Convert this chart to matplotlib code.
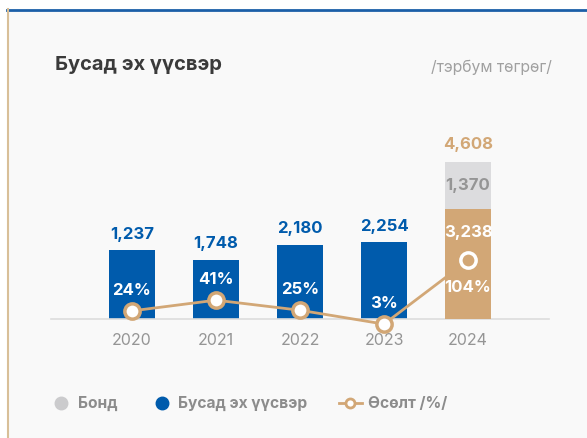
import matplotlib.pyplot as plt
from matplotlib.lines import Line2D
from matplotlib.patches import Rectangle

plt.rcParams['font.family'] = ['Inter', 'DejaVu Sans']

# data
years = ["2020", "2021", "2022", "2023", "2024"]
other_src = [2030, 1748, 2180, 2254, 3238]   # bar heights as drawn
other_lbl = ["1,237", "1,748", "2,180", "2,254", "3,238"]
bond = [0, 0, 0, 0, 1370]
bond_lbl = "1,370"
total_lbl = "4,608"
growth = [24, 41, 25, 3, 104]
growth_lbl = ["24%", "41%", "25%", "3%", "104%"]

BLUE = "#005bac"
TAN = "#d2a776"
GREY = "#dcdcde"
BG = "#f9f9f9"
TXT_GREY = "#959595"

W, H = 587, 438
fig = plt.figure(figsize=(W / 100, H / 100), dpi=100)
fig.patch.set_facecolor("white")

# card background and borders
fig.add_artist(Rectangle((8 / W, 0), 1, 1 - 10 / H, transform=fig.transFigure,
                         facecolor=BG, edgecolor="none", zorder=-5))
fig.add_artist(Line2D([7 / W, 1], [1 - 9.5 / H] * 2, color="#1b5fa8", lw=2))
fig.add_artist(Line2D([7.5 / W] * 2, [0, 1 - 9 / H], color="#d8bf98", lw=1.5))

rect = [51 / W, 1 - 319 / H, 498 / W, 189 / H]
x = list(range(len(years)))
w = 0.548
YMAX = 5560
G0, G1 = 11.1, 311.1

# bars 2020-2023
ax = fig.add_axes(rect)
ax.set_facecolor("none")
ax.bar(x[:4], other_src[:4], width=w, color=BLUE, zorder=2)
for i in range(4):
    ax.annotate(other_lbl[i], (x[i], other_src[i]), xytext=(0, 11.5), textcoords="offset points",
                ha="center", va="center", color=BLUE, fontsize=12, fontweight="bold")
ax.set_xlim(-0.964, 4.964)
ax.set_ylim(0, YMAX)
for s in ["top", "right", "left"]:
    ax.spines[s].set_visible(False)
ax.spines["bottom"].set_color("#dddddd")
ax.spines["bottom"].set_linewidth(1.2)
ax.set_yticks([])
ax.set_xticks(x)
ax.set_xticklabels(years, color=TXT_GREY, fontsize=11.5)
ax.tick_params(axis="x", length=0, pad=10)

# growth line
ax2 = fig.add_axes(rect, sharex=ax)
ax2.axis("off")
ax2.plot(x, growth, color=TAN, lw=2, zorder=3, clip_on=False)
ax2.plot(x[:4], growth[:4], "o", ms=11, mfc="white", mec=TAN, mew=2.5, zorder=5, clip_on=False)
for i in range(4):
    ax2.annotate(growth_lbl[i], (x[i], growth[i]), xytext=(0, 15), textcoords="offset points",
                 ha="center", va="center", color="white", fontsize=12, fontweight="bold",
                 annotation_clip=False)
ax2.set_ylim(G0, G1)

# 2024 stack sits over the line
ax3 = fig.add_axes(rect, sharex=ax, sharey=ax)
ax3.axis("off")
ax3.bar(x[4], other_src[4], width=w, color=TAN)
ax3.bar(x[4], bond[4], width=w, bottom=other_src[4], color=GREY)
ax3.annotate(bond_lbl, (x[4], other_src[4] + bond[4] / 2), ha="center", va="center",
             color=TXT_GREY, fontsize=12, fontweight="bold")
ax3.annotate(total_lbl, (x[4], other_src[4] + bond[4]), xytext=(0, 13), textcoords="offset points",
             ha="center", va="center", color=TAN, fontsize=12, fontweight="bold")
ax3.add_line(Line2D([x[4]], [growth[4]], marker="o", ms=11, mfc=TAN, mec="white", mew=2.5,
                    lw=0, transform=ax2.transData))
ax3.annotate(other_lbl[4], (x[4], growth[4]), xycoords=ax2.transData, xytext=(0, 20),
             textcoords="offset points", ha="center", va="center", color="white",
             fontsize=12, fontweight="bold")
ax3.annotate(growth_lbl[4], (x[4], growth[4]), xycoords=ax2.transData, xytext=(0, -19.5),
             textcoords="offset points", ha="center", va="center", color="white",
             fontsize=12, fontweight="bold")
ax3.set_xlim(-0.964, 4.964)
ax3.set_ylim(0, YMAX)
ax2.set_ylim(G0, G1)

# title and unit
fig.text(55 / W, 1 - 65 / H, "Бусад эх үүсвэр", fontsize=14.5, fontweight="bold",
         color="#3a3a3a", va="center", ha="left")
fig.text(552 / W, 1 - 67 / H, "/тэрбум төгрөг/", fontsize=11.3, color="#a0a0a0",
         va="center", ha="right")

# legend
ly = 1 - 403 / H
fig.add_artist(Line2D([61 / W], [ly], marker="o", ms=9, color="#cbcbcd", lw=0))
fig.text(78 / W, ly, "Бонд", fontsize=11.2, fontweight="bold", color="#8c8c8c", va="center")
fig.add_artist(Line2D([162 / W], [ly], marker="o", ms=9, color=BLUE, lw=0))
fig.text(178 / W, ly, "Бусад эх үүсвэр", fontsize=11.2, fontweight="bold", color="#8c8c8c", va="center")
fig.add_artist(Line2D([339 / W, 362 / W], [ly, ly], color=TAN, lw=2))
fig.add_artist(Line2D([350 / W], [ly], marker="o", ms=6.5, mfc="white", mec=TAN, mew=2, lw=0))
fig.text(368 / W, ly, "Өсөлт /%/", fontsize=11.2, fontweight="bold", color="#8c8c8c", va="center")

fig.savefig("out.png", dpi=100, facecolor=fig.get_facecolor())
